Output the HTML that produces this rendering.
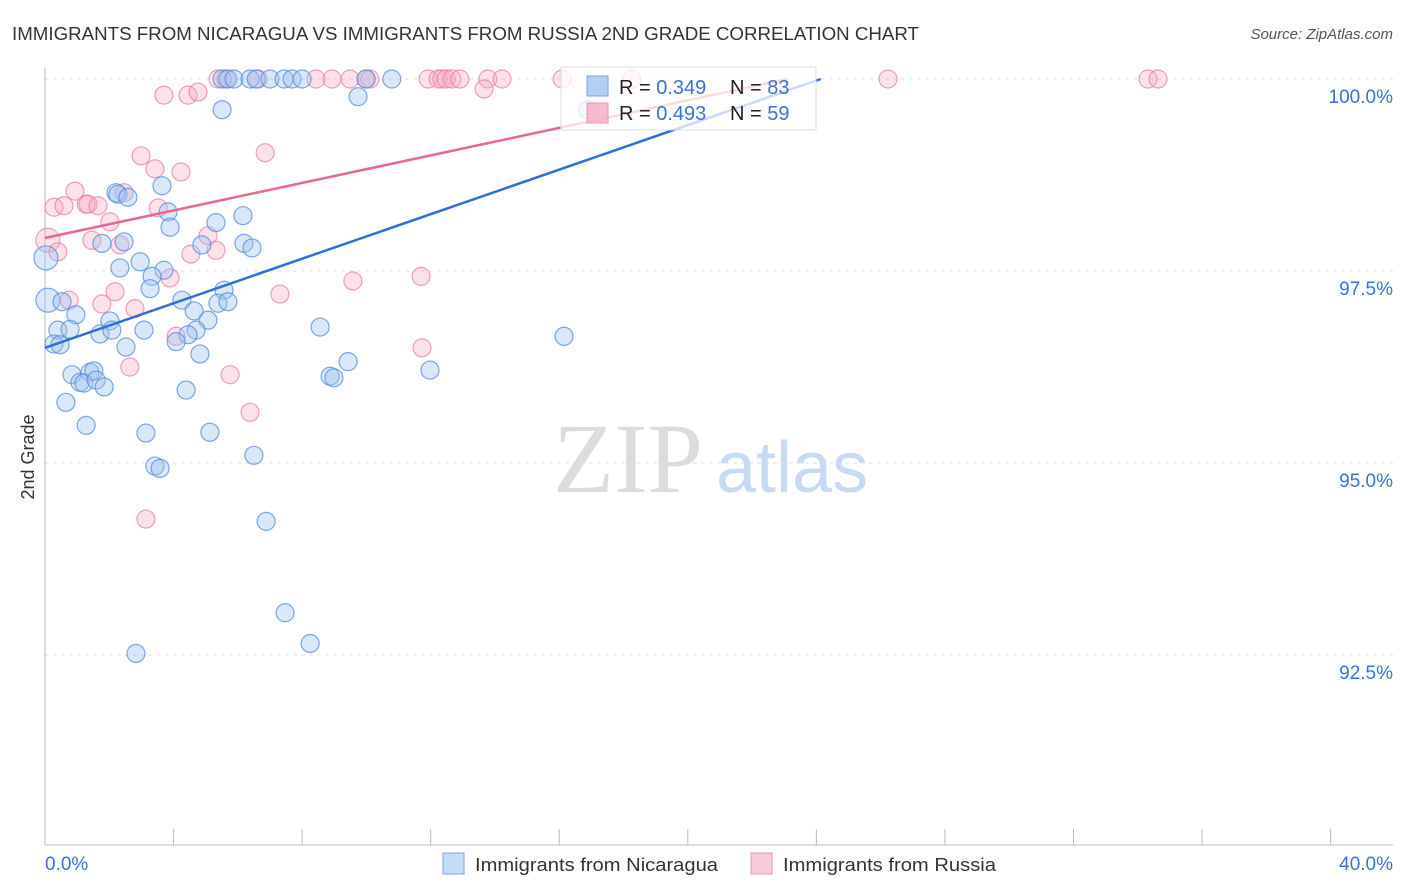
<!DOCTYPE html>
<html><head><meta charset="utf-8"><style>
body{margin:0;background:#fff;font-family:"Liberation Sans",sans-serif;}
#wrap{position:relative;width:1406px;height:892px;overflow:hidden;}
</style></head><body>
<div id="wrap">
<svg id="svg" width="1406" height="892" xmlns="http://www.w3.org/2000/svg">
<text x="12" y="40" font-size="18" fill="#333" textLength="907" lengthAdjust="spacingAndGlyphs">IMMIGRANTS FROM NICARAGUA VS IMMIGRANTS FROM RUSSIA 2ND GRADE CORRELATION CHART</text>
<text x="1393" y="39" font-size="15" fill="#555" font-style="italic" text-anchor="end">Source: ZipAtlas.com</text>
<text x="34" y="457" font-size="18" fill="#333" text-anchor="middle" transform="rotate(-90 34 457)">2nd Grade</text>
<g>
<text x="553" y="492" font-size="100" fill="#dcdcdc" font-family="Liberation Serif,serif">ZIP</text>
<text x="716" y="492" font-size="72" fill="#c8daf2">atlas</text>
</g>
<g id="grid"></g>
<g id="axes"></g>
<g id="pts"></g>
<g id="trends"></g>
<g>
<rect x="561" y="67" width="255" height="63" fill="rgba(255,255,255,0.75)" stroke="#ddd"/>
<rect x="587" y="76" width="21" height="20" fill="rgba(160,196,240,0.8)" stroke="#7aa6e2"/>
<rect x="587" y="103" width="21" height="20" fill="rgba(245,170,195,0.8)" stroke="#ec94b2"/>
<text x="619" y="94" font-size="20" fill="#222">R = <tspan fill="#3a72d0">0.349</tspan></text>
<text x="730" y="94" font-size="20" fill="#222">N = <tspan fill="#3a72d0">83</tspan></text>
<text x="619" y="120" font-size="20" fill="#222">R = <tspan fill="#3a72d0">0.493</tspan></text>
<text x="730" y="120" font-size="20" fill="#222">N = <tspan fill="#3a72d0">59</tspan></text>
</g>
<g>
<rect x="443" y="853" width="21" height="21" fill="rgba(160,196,240,0.6)" stroke="#7aa6e2"/>
<text x="475" y="871" font-size="18" fill="#333" textLength="243" lengthAdjust="spacingAndGlyphs">Immigrants from Nicaragua</text>
<rect x="751" y="853" width="21" height="21" fill="rgba(245,170,195,0.6)" stroke="#ec94b2"/>
<text x="783" y="871" font-size="18" fill="#333" textLength="213" lengthAdjust="spacingAndGlyphs">Immigrants from Russia</text>
</g>
</svg>
</div>
<script>
const yTicks=[100,97.5,95,92.5];
const yTickLabels=["100.0%","97.5%","95.0%","92.5%"];
const xTicks=[0,4,8,12,16,20,24,28,32,36,40];
const xEndLabels=["0.0%","40.0%"];
const blueX=[5.51,5.69,5.88,6.38,6.57,7.00,7.44,7.69,8.00,9.99,10.79,9.74,5.51,16.89,2.21,2.27,2.58,3.64,3.83,3.89,6.16,5.32,1.77,2.46,6.19,6.44,4.88,2.33,2.96,3.70,3.33,3.27,4.26,5.57,5.38,5.69,0.09,0.53,0.96,2.02,4.64,5.07,4.70,4.45,0.40,0.78,1.71,2.08,3.08,4.08,0.28,0.47,2.52,4.82,8.56,9.43,11.98,16.15,0.84,1.40,1.52,1.09,1.21,1.59,1.84,0.65,4.39,8.87,8.99,1.28,3.14,5.13,3.42,3.58,6.50,6.88,7.47,8.25,2.83,0.03];
const blueY=[100,100,100,100,100,100,100,100,100,100,100,99.77,99.60,99.60,98.52,98.50,98.46,98.61,98.27,98.07,98.22,98.13,97.86,97.88,97.86,97.80,97.84,97.54,97.62,97.51,97.43,97.27,97.12,97.25,97.08,97.10,97.12,97.10,96.93,96.85,96.98,96.86,96.73,96.67,96.73,96.74,96.68,96.73,96.73,96.58,96.55,96.54,96.51,96.42,96.77,96.32,96.21,96.65,96.15,96.18,96.20,96.05,96.04,96.08,95.99,95.79,95.95,96.13,96.11,95.49,95.39,95.40,94.96,94.93,95.10,94.24,93.05,92.65,92.52,97.67];
const pinkX=[5.38,5.63,6.63,8.43,8.93,9.49,9.99,10.11,11.92,12.23,12.35,12.48,12.66,12.91,13.78,14.22,16.09,18.26,26.23,34.32,34.63,3.70,4.45,4.76,13.66,2.99,3.42,4.23,6.85,0.93,1.28,0.28,0.59,1.34,1.65,2.02,3.52,1.46,2.33,5.07,5.32,4.54,0.09,0.40,3.89,9.58,11.70,2.18,1.77,0.75,2.80,7.31,4.08,2.64,5.76,6.38,3.14,11.73,2.46];
const pinkY=[100,100,100,100,100,100,100,100,100,100,100,100,100,100,100,100,100,100,100,100,100,99.79,99.79,99.83,99.87,99.00,98.83,98.79,99.04,98.54,98.37,98.33,98.35,98.37,98.35,98.14,98.32,97.90,97.84,97.96,97.77,97.72,97.90,97.75,97.41,97.37,97.43,97.23,97.07,97.12,97.01,97.20,96.65,96.25,96.15,95.66,94.27,96.50,98.52];
const blueTrend=[96.50,0.145];
const pinkTrend=[97.93,0.0896];
const NS="http://www.w3.org/2000/svg";
const X=v=>45+v*32.14, Y=v=>79+(100-v)*76.8;
function mk(tag,attrs,parent){const e=document.createElementNS(NS,tag);for(const k in attrs)e.setAttribute(k,attrs[k]);document.getElementById(parent).appendChild(e);return e;}
yTicks.forEach((t,i)=>{
 const l=mk('line',{x1:45,x2:1393,y1:Y(t),y2:Y(t),stroke:'#ddd','stroke-dasharray':'4,4'},'grid');
 
 
 const tx=mk('text',{x:1393,y:Y(t)+24,'font-size':19,fill:'#3a72d0','text-anchor':'end'},'axes');
 tx.textContent=yTickLabels[i];
 
 
});
const ax=mk('line',{x1:45,x2:45,y1:68,y2:845,stroke:'#bbb'},'axes');


const bx=mk('line',{x1:45,x2:1393,y1:845,y2:845,stroke:'#bbb'},'axes');


xTicks.forEach(t=>{
 const l=mk('line',{x1:X(t),x2:X(t),y1:829,y2:845,stroke:'#bbb'},'axes');
 
 
});
[[0,'start',45],[1,'end',1393]].forEach(([i,a,x])=>{
 const tx=mk('text',{x:x,y:870,'font-size':19,fill:'#3a72d0','text-anchor':a},'axes');
 tx.textContent=xEndLabels[i];
 
 
});
function pts(xs,ys,fill,stroke,name){
 xs.forEach((x,i)=>{
  const c=mk('circle',{cx:X(x),cy:Y(ys[i]),r:x<0.2?12:9,fill:fill,stroke:stroke,'stroke-width':1.2},'pts');
  
  
 });
}
pts(pinkX,pinkY,'rgba(245,170,195,0.35)','rgba(232,130,165,0.75)','point-russia');
pts(blueX,blueY,'rgba(160,196,240,0.4)','rgba(80,140,220,0.75)','point-nicaragua');
function trend(t,color,name){
 const xe=Math.min(40,(100-t[0])/t[1]);
 const l=mk('line',{x1:X(0),y1:Y(t[0]),x2:X(xe),y2:Y(t[0]+t[1]*xe),stroke:color,'stroke-width':2.5},'trends');
 
 
}
trend(pinkTrend,'#e8678f','trend-line-russia');
trend(blueTrend,'#2f6fd6','trend-line-nicaragua');
</script>
</body></html>
